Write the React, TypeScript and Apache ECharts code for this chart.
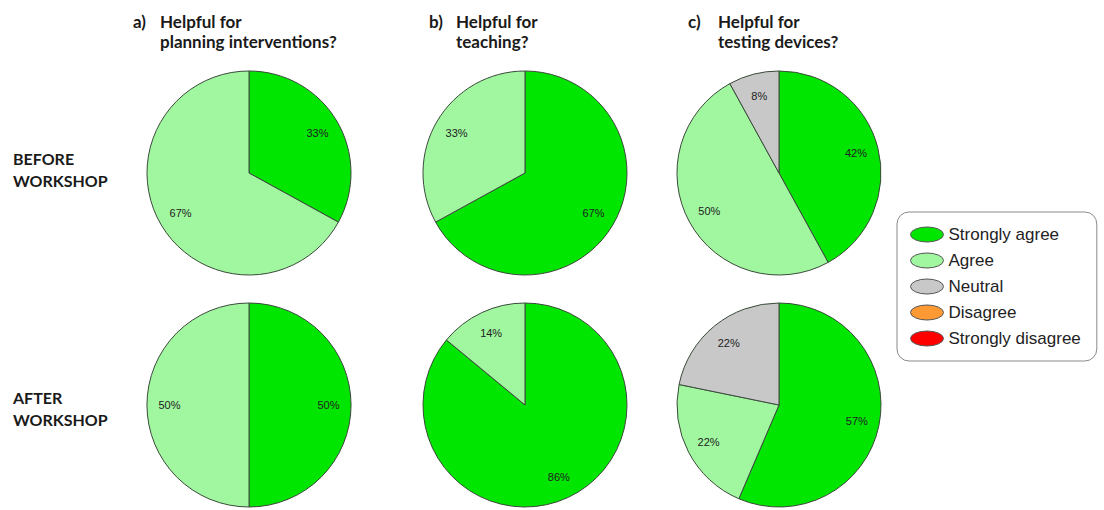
import React, { useEffect, useRef } from "react";
import * as echarts from "echarts";

const CATEGORIES = ["Strongly agree", "Agree", "Neutral", "Disagree", "Strongly disagree"];
const COLORS = ["#00e600", "#a0f7a0", "#c8c8c8", "#ff9933", "#ff0000"];

const COLUMN_PREFIXES = ["a)", "b)", "c)"];
const COLUMN_TITLES = [
  ["Helpful for", "planning interventions?"],
  ["Helpful for", "teaching?"],
  ["Helpful for", "testing devices?"],
];
const ROW_TITLES = [
  ["BEFORE", "WORKSHOP"],
  ["AFTER", "WORKSHOP"],
];

// percentages per category, in CATEGORIES order
const BEFORE_PLANNING = [33, 67, 0, 0, 0];
const BEFORE_TEACHING = [67, 33, 0, 0, 0];
const BEFORE_TESTING = [42, 50, 8, 0, 0];
const AFTER_PLANNING = [50, 50, 0, 0, 0];
const AFTER_TEACHING = [86, 14, 0, 0, 0];
const AFTER_TESTING = [57, 22, 22, 0, 0];

const PIES = [
  [BEFORE_PLANNING, BEFORE_TEACHING, BEFORE_TESTING],
  [AFTER_PLANNING, AFTER_TEACHING, AFTER_TESTING],
];

const COL_X = [249, 525, 779];
const ROW_Y = [173, 405];
const RADIUS = 102;
const TITLE_PREFIX_X = [133, 429, 688];
const TITLE_TEXT_X = [160, 456, 718];

const TITLE_FONT = "Lato, 'Open Sans', sans-serif";
const LABEL_FONT = "'Liberation Sans', Arial, sans-serif";
const ELLIPSE_ICON = "path://M0,7.5 A16.5,7.5 0 1,0 33,7.5 A16.5,7.5 0 1,0 0,7.5 Z";

export default function App() {
  const ref = useRef<HTMLDivElement>(null);

  useEffect(() => {
    if (!ref.current) return;
    const chart = echarts.init(ref.current, undefined, { renderer: "svg" });

    const series: any[] = [];
    // main pies (no labels)
    PIES.forEach((row, r) =>
      row.forEach((vals, c) => {
        series.push({
          type: "pie",
          name: `pie-${r}-${c}`,
          center: [COL_X[c], ROW_Y[r]],
          radius: [0, RADIUS],
          startAngle: 90,
          clockwise: true,
          label: { show: false },
          labelLine: { show: false },
          emphasis: { disabled: true },
          data: CATEGORIES.map((name, i) => ({
            name,
            value: vals[i],
            itemStyle: {
              color: COLORS[i],
              borderColor: "#3a4a3a",
              borderWidth: vals[i] > 0 ? 1 : 0,
            },
          })),
        });
      })
    );
    // label rings (transparent) so that labels sit at 3/4 of the radius
    PIES.forEach((row, r) =>
      row.forEach((vals, c) => {
        series.push({
          type: "pie",
          name: `label-${r}-${c}`,
          center: [COL_X[c], ROW_Y[r]],
          radius: [RADIUS / 2, RADIUS],
          startAngle: 90,
          clockwise: true,
          silent: true,
          labelLine: { show: false },
          itemStyle: { color: "rgba(0,0,0,0)", borderWidth: 0 },
          label: {
            show: true,
            position: "inside",
            formatter: "{c}%",
            fontFamily: LABEL_FONT,
            fontSize: 11,
            color: "#222",
          },
          data: CATEGORIES.map((name, i) => ({ name, value: vals[i] })).filter(
            (d) => d.value > 0
          ),
        });
      })
    );

    const graphic: any[] = [];
    COLUMN_TITLES.forEach((lines, c) => {
      graphic.push({
        type: "text",
        x: TITLE_PREFIX_X[c],
        y: 21,
        style: {
          text: COLUMN_PREFIXES[c],
          fontFamily: TITLE_FONT,
          fontWeight: "bold",
          fontSize: 17,
          fill: "#1a1a1a",
          verticalAlign: "middle",
        },
      });
      lines.forEach((line, k) =>
        graphic.push({
          type: "text",
          x: TITLE_TEXT_X[c],
          y: 21 + k * 20,
          style: {
            text: line,
            fontFamily: TITLE_FONT,
            fontWeight: "bold",
            fontSize: 17,
            fill: "#1a1a1a",
            verticalAlign: "middle",
          },
        })
      );
    });
    ROW_TITLES.forEach((lines, r) =>
      lines.forEach((line, k) =>
        graphic.push({
          type: "text",
          x: 13,
          y: [158, 397][r] + k * 22,
          style: {
            text: line,
            fontFamily: TITLE_FONT,
            fontWeight: "bold",
            fontSize: 16,
            fill: "#1a1a1a",
            verticalAlign: "middle",
          },
        })
      )
    );

    chart.setOption({
      animation: false,
      backgroundColor: "#ffffff",
      legend: {
        orient: "vertical",
        left: 897,
        top: 212,
        data: CATEGORIES.map((name) => ({ name, icon: ELLIPSE_ICON })),
        itemWidth: 33,
        itemHeight: 15,
        itemGap: 9,
        padding: [14, 16, 14, 13],
        borderColor: "#8a8a8a",
        borderWidth: 1,
        borderRadius: 12,
        itemStyle: { borderColor: "#555", borderWidth: 1 },
        textStyle: { fontFamily: LABEL_FONT, fontSize: 17, color: "#222" },
      },
      graphic,
      series,
    });

    return () => chart.dispose();
  }, []);

  return (
    <div
      ref={ref}
      style={{ position: "fixed", left: 0, top: 0, width: 1104, height: 510 }}
    />
  );
}
